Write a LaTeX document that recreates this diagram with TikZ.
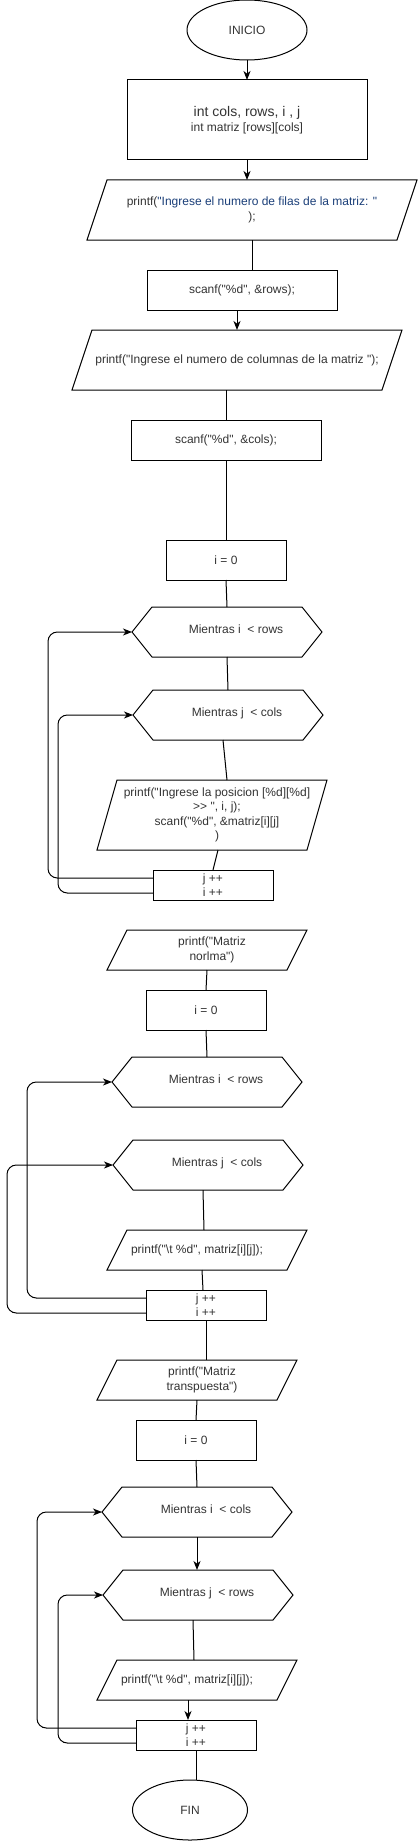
\documentclass[tikz,border=0pt]{standalone}
\usepackage{fontspec}
\newfontfamily\flowfont{Liberation Sans}
\usetikzlibrary{shapes.geometric,arrows.meta}
\definecolor{txtgray}{HTML}{333333}
\definecolor{strblue}{HTML}{1A3E78}
\def\pxu{0.75pt}
\def\iopath#1{([xshift=-7.5pt]#1.south west) -- ([xshift=7.5pt]#1.north west) -- ([xshift=7.5pt]#1.north east) -- ([xshift=-7.5pt]#1.south east) -- cycle}
\def\hexpath#1{(#1.west) -- ([xshift=15pt]#1.north west) -- ([xshift=-15pt]#1.north east) -- (#1.east) -- ([xshift=-15pt]#1.south east) -- ([xshift=15pt]#1.south west) -- cycle}
\def\hexlbl#1{\hspace*{13.5pt}\raisebox{4.5pt}{#1}}
\def\txtshift{\hspace*{7.5pt}}

\begin{document}
\begin{tikzpicture}[x=0.75pt,y=-0.75pt,line width=0.75pt,
    every node/.style={font=\flowfont\fontsize{9}{10.8}\selectfont,text=txtgray,outer sep=0pt,inner sep=1pt,align=center},
    termbox/.style={ellipse,draw,minimum width=#1*\pxu,minimum height=60*\pxu},
    procbox/.style 2 args={draw,minimum width=#1*\pxu,minimum height=#2*\pxu},
    iobox/.style 2 args={minimum width=#1*\pxu,minimum height=#2*\pxu},
    hexbox/.style={minimum width=190*\pxu,minimum height=50*\pxu},
    arrowline/.style={-{Stealth[length=6.75pt,width=5.25pt,inset=2pt]}},
    loopline/.style={rounded corners=7pt,-{Stealth[length=6.75pt,width=5.25pt,inset=2pt]}}]
    \useasboundingbox (0,0) rectangle (419,1841);

    % entrada de datos
    \node[termbox=120] (ini) at (247,30) {INICIO};
    \node[procbox={240}{80}] (decl) at (247,120) {{\fontsize{10.5}{12.6}\selectfont int cols, rows, i , j}\\int matriz [rows][cols]};
    \node[iobox={310}{60}] (p1) at (252,210) {printf(\textcolor{strblue}{"Ingrese el numero de filas de la matriz: "}\\);};
    \node[procbox={190}{40}] (scanr) at (242,290) {scanf("\%d", \&rows);};
    \node[iobox={310}{60}] (p2) at (237,360) {printf("Ingrese el numero de columnas de la matriz ");};
    \node[procbox={190}{40}] (scanc) at (226,440) {scanf("\%d", \&cols);};

    % lectura de la matriz
    \node[procbox={120}{40}] (i1) at (226,560) {i = 0};
    \node[hexbox] (w1) at (227,632) {\hexlbl{Mientras i~ < rows}};
    \node[hexbox] (w2) at (228,715) {\hexlbl{Mientras j~ < cols}};
    \node[iobox={210}{70}] (p3) at (212,815) {\txtshift printf("Ingrese la posicion [\%d][\%d]\\\txtshift >> ", i, j);\\\txtshift scanf("\%d", \&matriz[i][j]\\\txtshift )};
    \node[procbox={120}{30}] (inc1) at (213,885) {j ++\\i ++};

    % matriz normal
    \node[iobox={180}{40}] (p4) at (207,950) {\txtshift printf("Matriz\\\txtshift norlma")};
    \node[procbox={120}{40}] (i2) at (206,1010) {i = 0};
    \node[hexbox] (w3) at (207,1082) {\hexlbl{Mientras i~ < rows}};
    \node[hexbox] (w4) at (208,1165) {\hexlbl{Mientras j~ < cols}};
    \node[iobox={180}{40}] (p5) at (207,1250) {\hspace*{-15pt}printf("\textbackslash t \%d", matriz[i][j]);};
    \node[procbox={120}{30}] (inc2) at (206,1305) {j ++\\i ++};

    % matriz transpuesta
    \node[iobox={180}{40}] (p6) at (197,1380) {\txtshift printf("Matriz\\\txtshift transpuesta")};
    \node[procbox={120}{40}] (i3) at (196,1440) {i = 0};
    \node[hexbox] (w5) at (197,1512) {\hexlbl{Mientras i~ < cols}};
    \node[hexbox] (w6) at (198,1595) {\hexlbl{Mientras j~ < rows}};
    \node[iobox={180}{40}] (p7) at (197,1680) {\hspace*{-15pt}printf("\textbackslash t \%d", matriz[i][j]);};
    \node[procbox={120}{30}] (inc3) at (196,1735) {j ++\\i ++};
    \node[termbox=115] (fin) at (190,1810) {FIN};

    \foreach \n in {p1,p2,p3,p4,p5,p6,p7} \draw \iopath{\n};
    \foreach \n in {w1,w2,w3,w4,w5,w6} \draw \hexpath{\n};

    % conectores
    \draw[arrowline] (ini.south) -- (decl.north);
    \draw[arrowline] (decl.south) -- (decl.south |- p1.north);
    \draw (p1.south) -- (p1.south |- scanr.north);
    \draw[arrowline] (p2.north |- scanr.south) -- (p2.north);
    \draw (scanc.north |- p2.south) -- (scanc.north);
    \draw (scanc.south) -- (i1.north);
    \draw (i1.south) -- (w1.north);
    \draw (w1.south) -- (w2.north);
    \draw ([xshift=-3.75pt]w2.south) -- ([xshift=11.25pt]p3.north);
    \draw ([xshift=4.5pt]p3.south) -- (inc1.north);
    \draw[loopline] ([yshift=5.25pt]inc1.west) -| (48,700) |- (w1.west);
    \draw[loopline] ([yshift=-6pt]inc1.west) -| (58,800) |- (w2.west);

    \draw (p4.south) -- (i2.north);
    \draw (i2.south) -- (w3.north);
    \draw ([xshift=-3.75pt]w4.south) -- ([xshift=-2.25pt]p5.north);
    \draw ([xshift=-3.75pt]p5.south) -- ([xshift=-2.25pt]inc2.north);
    \draw[loopline] ([yshift=5.25pt]inc2.west) -| (27,1200) |- (w3.west);
    \draw[loopline] ([yshift=-6pt]inc2.west) -| (7,1250) |- (w4.west);

    \draw (inc2.south) -- (inc2.south |- p6.north);
    \draw (p6.south) -- (i3.north);
    \draw (i3.south) -- (w5.north);
    \draw[arrowline] (w5.south) -- (w5.south |- w6.north);
    \draw ([xshift=-3.75pt]w6.south) -- ([xshift=-2.25pt]p7.north);
    \draw[arrowline] ([xshift=-6.75pt]p7.south) -- ([xshift=-6.75pt]p7.south |- inc3.north);
    \draw[loopline] ([yshift=5.25pt]inc3.west) -| (37,1650) |- (w5.west);
    \draw[loopline] ([yshift=-6pt]inc3.west) -| (58,1680) |- (w6.west);
    \draw (inc3.south) -- (inc3.south |- fin.north);
\end{tikzpicture}
\end{document}
